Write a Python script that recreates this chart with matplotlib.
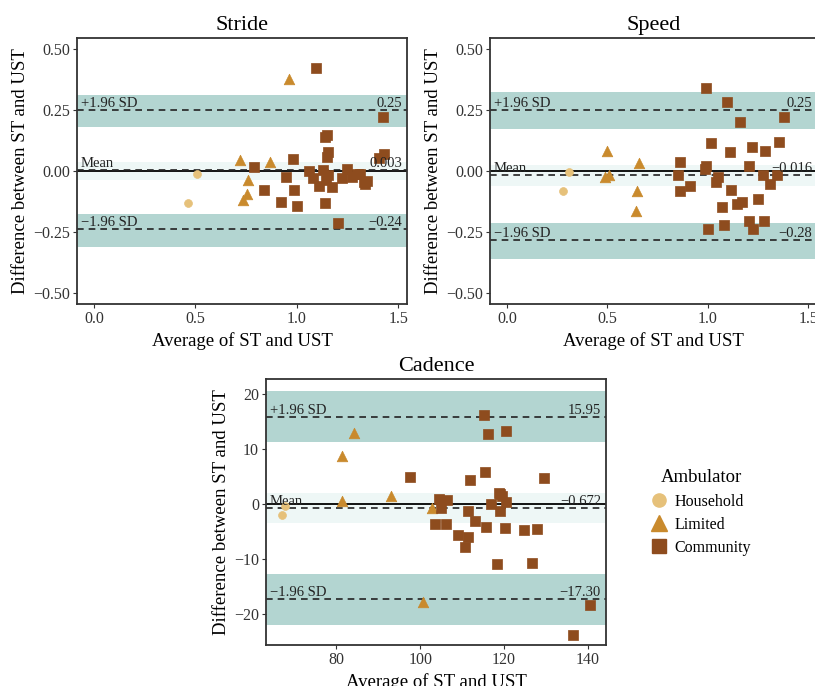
import matplotlib
matplotlib.use("Agg")
import matplotlib.pyplot as plt
from matplotlib.lines import Line2D

plt.rcParams['font.family'] = ['Liberation Serif', 'DejaVu Serif']

# colores por grupo
colores = {'Household': '#E6C17A', 'Limited': '#C98A2D', 'Community': '#8E4C1E'}
marcadores = {'Household': 'o', 'Limited': '^', 'Community': 's'}
tamanos = {'Household': 32, 'Limited': 58, 'Community': 42}
banda_color = '#B3D5D1'
banda_media_color = '#EEF7F6'

# ---------------- Stride ----------------
stride_hh_x = [0.462, 0.507]
stride_hh_y = [-0.133, -0.011]
stride_lim_x = [0.962, 0.720, 0.868, 0.762, 0.757, 0.734]
stride_lim_y = [0.377, 0.045, 0.038, -0.037, -0.096, -0.119]
stride_com_x = [1.095, 1.424, 1.140, 1.148, 1.156, 1.151, 1.431, 1.408, 0.984, 0.788,
                1.062, 1.128, 1.247, 0.947, 1.082, 1.156, 1.145, 1.112, 1.176, 1.222,
                1.271, 1.299, 1.312, 1.332, 1.349, 1.337, 0.837, 0.988, 0.923, 1.002,
                1.141, 1.202]
stride_com_y = [0.422, 0.223, 0.141, 0.149, 0.079, 0.059, 0.070, 0.055, 0.049, 0.016,
                0.000, 0.003, 0.007, -0.025, -0.030, -0.016, -0.037, -0.060, -0.067, -0.030,
                -0.023, -0.012, -0.014, -0.044, -0.040, -0.055, -0.078, -0.078, -0.129, -0.144,
                -0.131, -0.215]
stride_media = 0.003
stride_sup = 0.25
stride_inf = -0.24
stride_bandas = [(0.18, 0.312), (-0.037, 0.038), (-0.314, -0.177)]
stride_etiquetas = ['0.25', '0.003', '\u22120.24']

# ---------------- Speed ----------------
speed_hh_x = [0.310, 0.277]
speed_hh_y = [-0.005, -0.084]
speed_lim_x = [0.497, 0.488, 0.507, 0.658, 0.647, 0.643]
speed_lim_y = [0.081, -0.026, -0.015, 0.032, -0.081, -0.165]
speed_com_x = [0.993, 1.095, 1.160, 1.380, 1.018, 1.357, 1.222, 1.287, 1.110, 0.863,
               0.993, 0.988, 1.205, 0.850, 1.050, 1.043, 1.277, 1.343, 0.913, 0.863,
               1.308, 1.117, 1.070, 1.147, 1.173, 1.252, 1.002, 1.083, 1.205, 1.227,
               1.282]
speed_com_y = [0.342, 0.284, 0.202, 0.223, 0.117, 0.120, 0.100, 0.081, 0.076, 0.037,
               0.021, 0.008, 0.021, -0.015, -0.023, -0.044, -0.018, -0.015, -0.063, -0.082,
               -0.054, -0.080, -0.146, -0.137, -0.128, -0.113, -0.240, -0.223, -0.207, -0.240,
               -0.207]
speed_media = -0.016
speed_sup = 0.25
speed_inf = -0.285
speed_bandas = [(0.172, 0.323), (-0.06, 0.024), (-0.36, -0.214)]
speed_etiquetas = ['0.25', '\u22120.016', '\u22120.28']

# ---------------- Cadence ----------------
cad_hh_x = [67.7, 66.9]
cad_hh_y = [-0.3, -1.9]
cad_lim_x = [84.1, 81.4, 81.4, 93.0, 102.7, 100.7]
cad_lim_y = [12.9, 8.8, 0.6, 1.5, -0.6, -17.7]
cad_com_x = [97.5, 104.5, 106.4, 105.0, 103.5, 106.1, 111.4, 111.8, 113.0, 108.9,
             111.3, 110.6, 115.1, 116.2, 120.4, 115.4, 115.7, 116.9, 118.7, 119.0,
             119.5, 120.5, 118.9, 120.1, 118.2, 124.7, 127.9, 126.7, 129.4, 140.6,
             136.4]
cad_com_y = [4.9, 0.9, 0.8, -0.6, -3.6, -3.6, -1.3, 4.4, -3.0, -5.6,
             -6.0, -7.8, 16.3, 12.8, 13.4, 5.8, -4.2, 0.0, 2.1, 1.8,
             1.5, 0.4, -1.2, -4.4, -10.9, -4.6, -4.5, -10.6, 4.7, -18.4,
             -23.7]
cad_media = -0.672
cad_sup = 15.95
cad_inf = -17.30
cad_bandas = [(11.3, 20.6), (-3.4, 2.0), (-22.0, -12.7)]
cad_etiquetas = ['15.95', '\u22120.672', '\u221217.30']


def graficar_panel(ax, titulo, grupos, media, sup, inf, bandas, etiquetas,
                   xlim, ylim, xticks, yticks, yfmt):
    for (b0, b1), c in zip(bandas, [banda_color, banda_media_color, banda_color]):
        ax.axhspan(b0, b1, color=c, lw=0, zorder=0)
    ax.axhline(0, color='black', lw=1.3, zorder=1)
    for v in (sup, media, inf):
        ax.axhline(v, color='#222222', lw=1.2, ls=(0, (4, 3)), zorder=1)

    for nombre, xs, ys in grupos:
        ax.scatter(xs, ys, s=tamanos[nombre], marker=marcadores[nombre],
                   color=colores[nombre], edgecolors=colores[nombre], lw=0.5, zorder=3)

    trans = ax.get_yaxis_transform()
    izq = ['+1.96 SD', 'Mean', '\u22121.96 SD']
    for v, txt_izq, txt_der in zip((sup, media, inf), izq, etiquetas):
        ax.text(0.012, v, txt_izq, transform=trans, fontsize=10.5,
                ha='left', va='bottom', color='#222222')
        ax.text(0.985, v, txt_der, transform=trans, fontsize=10.5,
                ha='right', va='bottom', color='#222222')

    ax.set_xlim(*xlim)
    ax.set_ylim(*ylim)
    ax.set_xticks(xticks)
    ax.set_yticks(yticks)
    ax.set_yticklabels([yfmt.format(t).replace('-', '\u2212') for t in yticks])
    ax.tick_params(labelsize=11.5, length=3, width=0.8, colors='#333333',
                   labelcolor='#333333', pad=2)
    for s in ax.spines.values():
        s.set_color('#333333')
        s.set_linewidth(1.3)
    ax.set_title(titulo, fontsize=16, pad=6)
    ax.set_xlabel('Average of ST and UST', fontsize=13.5, labelpad=4)
    ax.set_ylabel('Difference between ST and UST', fontsize=13.5, labelpad=3)


fig = plt.figure(figsize=(8.15, 6.86), dpi=100)
W, H = 815, 686

def caja(x0, x1, y0, y1):
    return [x0 / W, 1 - y1 / H, (x1 - x0) / W, (y1 - y0) / H]

ax1 = fig.add_axes(caja(77, 407, 38, 304))
ax2 = fig.add_axes(caja(490, 817, 38, 304))
ax3 = fig.add_axes(caja(266, 606, 379, 645))

xlim_s = (-0.084, 1.544)
ylim_s = (-0.546, 0.546)
ticks_x = [0.0, 0.5, 1.0, 1.5]
ticks_y = [-0.5, -0.25, 0.0, 0.25, 0.5]

graficar_panel(ax1, 'Stride',
               [('Household', stride_hh_x, stride_hh_y),
                ('Limited', stride_lim_x, stride_lim_y),
                ('Community', stride_com_x, stride_com_y)],
               stride_media, stride_sup, stride_inf, stride_bandas, stride_etiquetas,
               xlim_s, ylim_s, ticks_x, ticks_y, '{:.2f}')
ax1.set_xticklabels(['0.0', '0.5', '1.0', '1.5'])

graficar_panel(ax2, 'Speed',
               [('Household', speed_hh_x, speed_hh_y),
                ('Limited', speed_lim_x, speed_lim_y),
                ('Community', speed_com_x, speed_com_y)],
               speed_media, speed_sup, speed_inf, speed_bandas, speed_etiquetas,
               xlim_s, ylim_s, ticks_x, ticks_y, '{:.2f}')
ax2.set_xticklabels(['0.0', '0.5', '1.0', '1.5'])

graficar_panel(ax3, 'Cadence',
               [('Household', cad_hh_x, cad_hh_y),
                ('Limited', cad_lim_x, cad_lim_y),
                ('Community', cad_com_x, cad_com_y)],
               cad_media, cad_sup, cad_inf, cad_bandas, cad_etiquetas,
               (63.2, 144.3), (-25.6, 22.8), [80, 100, 120, 140], [-20, -10, 0, 10, 20],
               '{:d}')

# leyenda
handles = [Line2D([], [], ls='', marker=marcadores[k], color=colores[k],
                  markersize=11 if k == 'Limited' else 9.5)
           for k in ['Household', 'Limited', 'Community']]
leg = fig.legend(handles, ['Household', 'Limited', 'Community'], title='Ambulator',
                 loc='upper left', bbox_to_anchor=(638 / W, 1 - 455 / H),
                 frameon=False, fontsize=11.5, title_fontsize=13.5,
                 handletextpad=0.6, labelspacing=0.45, alignment='left',
                 handlelength=0.8)
leg._legend_box.align = 'left'
leg.get_title().set_position((8, 0))

fig.savefig('out.png', dpi=100)
